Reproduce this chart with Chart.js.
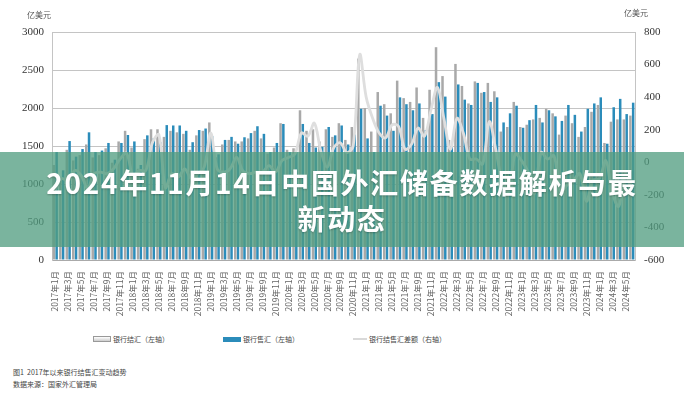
<!DOCTYPE html>
<html lang="zh">
<head>
    <meta charset="UTF-8">
    <title>银行结售汇变动趋势</title>
    <script src="https://cdn.jsdelivr.net/npm/chart.js"></script>
    <style>
        body {
            margin: 0;
            background: #fff;
            font-family: "Noto Sans CJK SC", sans-serif;
        }
        #wrap {
            position: relative;
            width: 684px;
            height: 400px;
            overflow: hidden;
        }
        #chart {
            position: absolute;
            left: 0;
            top: 0;
        }
        .unit {
            position: absolute;
            font-size: 8px;
            color: #555;
        }
        .legend {
            position: absolute;
            top: 334px;
            font-size: 7px;
            color: #444;
            display: flex;
            align-items: center;
            white-space: nowrap;
        }
        .sw {
            display: inline-block;
            margin-right: 2px;
        }
        .caption {
            position: absolute;
            left: 13px;
            font-size: 7px;
            color: #444;
            white-space: pre;
        }
        .banner {
            position: absolute;
            left: 0;
            top: 152px;
            width: 684px;
            height: 95px;
            background: rgba(80, 156, 128, 0.76);
            color: #fff;
            font-weight: 700;
            font-size: 28px;
            letter-spacing: 1.7px;
            line-height: 36px;
            text-align: center;
            display: flex;
            flex-direction: column;
            justify-content: center;
            text-shadow: 0 1px 2px rgba(0, 0, 0, 0.25);
        }
    </style>
</head>
<body>

<div id="wrap">
    <canvas id="chart" width="684" height="320"></canvas>

    <div class="unit" style="left:27px; top:9px;">亿美元</div>
    <div class="unit" style="left:624px; top:7px;">亿美元</div>

    <!-- legend -->
    <div class="legend" style="left:93px;">
        <span class="sw" style="width:16px; height:4px; border:1px solid #999; background:linear-gradient(#fff,#ccc);"></span>银行结汇（左轴）
    </div>
    <div class="legend" style="left:223px;">
        <span class="sw" style="width:18px; height:5px; background:#2b8cba;"></span>银行售汇（左轴）
    </div>
    <div class="legend" style="left:353px;">
        <span class="sw" style="width:14px; height:2px; background:#d9d9d9;"></span>银行结售汇差额（右轴）
    </div>

    <div class="caption" style="top:367px;">图1  2017年以来银行结售汇变动趋势</div>
    <div class="caption" style="top:379px;">数据来源：国家外汇管理局</div>

    <div class="banner">
        <div>2024年11月14日中国外汇储备数据解析与最</div>
        <div>新动态</div>
    </div>
</div>

<script>
    // months 2017-01 .. 2024-06
    const years = [2017, 2018, 2019, 2020, 2021, 2022, 2023, 2024];
    const months = [];
    years.forEach(y => {
        for (let m = 1; m <= 12; m++) {
            if (y === 2024 && m > 6) break;
            months.push(y + "年" + m + "月");
        }
    });

    // 银行结汇 (left axis, 亿美元)
    const settle = [
        1250, 1080, 1450, 1310, 1380, 1520, 1350, 1380, 1470, 1280, 1560, 1700,
        1480, 1200, 1590, 1720, 1720, 1620, 1700, 1680, 1660, 1450, 1640, 1700,
        1810, 1350, 1520, 1580, 1560, 1560, 1600, 1700, 1600, 1400, 1480, 1800,
        1450, 1470, 1970, 1700, 1720, 1560, 1720, 1620, 1800, 1580, 1750, 2650,
        2000, 1690, 2210, 2050, 1930, 2360, 2130, 2080, 2270, 1870, 2240, 2800,
        2420, 1580, 2580, 2290, 2060, 2350, 2200, 2330, 2220, 1690, 1750, 2080,
        1750, 1780, 1850, 1870, 1990, 1930, 1650, 1900, 1800, 1620, 1750, 1950,
        2040, 1540, 1820, 1850, 1850, 1900
    ];

    // 银行售汇 (left axis, 亿美元)
    const sales = [
        1420, 1180, 1565, 1360, 1460, 1680, 1420, 1440, 1540, 1320, 1540, 1645,
        1560, 1250, 1640, 1600, 1550, 1775, 1770, 1770, 1700, 1550, 1710, 1730,
        1630, 1390, 1580, 1620, 1530, 1615, 1670, 1760, 1660, 1420, 1540, 1790,
        1420, 1420, 1790, 1540, 1480, 1490, 1750, 1640, 1770, 1520, 1650, 1990,
        1600, 1420, 2030, 1900, 1700, 2140, 2050, 1970, 2060, 1710, 1920, 2340,
        2150, 1500, 2310, 2110, 2040, 2330, 2210, 2080, 2140, 1810, 1930, 2030,
        1740, 1840, 2040, 1810, 1970, 1890, 1830, 2040, 1910, 1690, 1990, 2060,
        2140, 1530, 2010, 2120, 1920, 2070
    ];

    // 银行结售汇差额 (right axis, 亿美元)
    const net = [
        -170, -100, -115, -50, -80, -160, -70, -60, -70, -40, 20, 55,
        -80, -50, -50, 120, 170, -155, -70, -90, -40, -100, -70, -30,
        180, -40, -60, -40, 30, -55, -70, -60, -60, -20, -60, 10,
        30, 50, 180, 160, 240, 70, -30, 90, 120, 60, 100, 660,
        400, 270, 180, 150, 230, 220, 80, 110, 210, 160, 320, 460,
        270, 80, 270, 180, 20, 20, -10, 250, 80, -120, -180, 50,
        10, -60, -190, 60, 20, 40, -180, -140, -110, -70, -240, -110,
        -100, 10, -190, -270, -70, -170
    ];

    const leftTicks = { min: 0, max: 3000, step: 500 };
    const rightTicks = { min: -600, max: 800, step: 200 };

    const serif = "'Liberation Serif', 'Times New Roman', serif";
    const cjk = "'Noto Sans CJK SC', sans-serif";

    new Chart(document.getElementById("chart"), {
        data: {
            labels: months,
            datasets: [
                {
                    type: 'line',
                    label: '银行结售汇差额（右轴）',
                    data: net,
                    yAxisID: 'y1',
                    borderColor: '#dedede',
                    borderWidth: 2.8,
                    pointRadius: 0,
                    tension: 0.35,
                    order: 0
                },
                {
                    type: 'bar',
                    label: '银行结汇（左轴）',
                    data: settle,
                    yAxisID: 'y',
                    backgroundColor: '#a9a9a9',
                    categoryPercentage: 0.86,
                    barPercentage: 0.9,
                    order: 1
                },
                {
                    type: 'bar',
                    label: '银行售汇（左轴）',
                    data: sales,
                    yAxisID: 'y',
                    backgroundColor: '#2b8cba',
                    categoryPercentage: 0.86,
                    barPercentage: 0.9,
                    order: 2
                }
            ]
        },
        options: {
            responsive: false,
            animation: false,
            layout: { padding: { top: 32, left: 0, right: 0, bottom: 0 } },
            plugins: {
                legend: { display: false },
                tooltip: { enabled: false }
            },
            scales: {
                x: {
                    grid: { display: false },
                    border: { color: '#aaa' },
                    ticks: {
                        autoSkip: false,
                        minRotation: 90,
                        maxRotation: 90,
                        padding: 3,
                        color: '#666',
                        font: { family: cjk, size: 8.5 },
                        callback: function (v, i) {
                            return i % 2 === 0 ? this.getLabelForValue(v) : '';
                        }
                    },
                    afterFit: s => { s.height = 60; }
                },
                y: {
                    position: 'left',
                    min: leftTicks.min,
                    max: leftTicks.max,
                    grid: { color: '#c4c4c4', drawTicks: false },
                    border: { color: '#c4c4c4' },
                    ticks: {
                        stepSize: leftTicks.step,
                        padding: 8,
                        color: '#333',
                        font: { family: serif, size: 11 },
                        callback: v => String(v)
                    },
                    afterFit: s => { s.width = 52; }
                },
                y1: {
                    position: 'right',
                    min: rightTicks.min,
                    max: rightTicks.max,
                    grid: { display: false, drawTicks: false },
                    border: { color: '#c4c4c4' },
                    ticks: {
                        stepSize: rightTicks.step,
                        padding: 9,
                        color: '#333',
                        font: { family: serif, size: 11 },
                        callback: v => String(v)
                    },
                    afterFit: s => { s.width = 49; }
                }
            }
        }
    });
</script>

</body>
</html>
